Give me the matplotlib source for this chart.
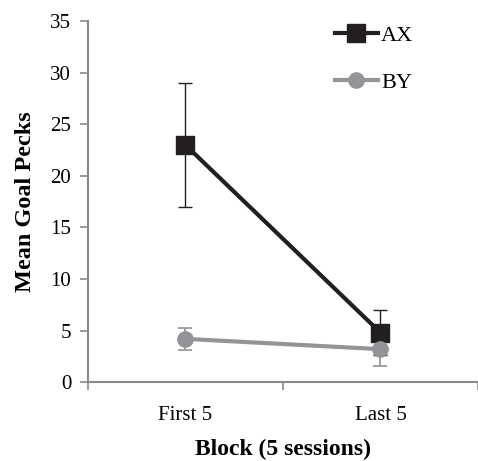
import matplotlib
matplotlib.use("Agg")
import matplotlib.pyplot as plt

plt.rcParams["font.family"] = ["Liberation Serif", "DejaVu Serif"]

# data
blocks = ["First 5", "Last 5"]
ax_mean = [23.0, 4.8]
ax_err = [6.0, 2.2]
by_mean = [4.2, 3.2]
by_err = [1.1, 1.6]

BLACK = "#231f20"
GRAY = "#929497"
AXIS = "#8a8a8a"

fig = plt.figure(figsize=(4.78, 4.61), dpi=100)
ax = fig.add_axes([0.184, 0.171, 0.816, 0.783])

x = list(range(len(blocks)))
# BY error bars sit underneath, BY markers on top of AX
ax.errorbar(x, by_mean, yerr=by_err, fmt="none", ecolor=GRAY,
            elinewidth=1.2, capsize=5, capthick=1.2, zorder=1)
eb_ax = ax.errorbar(x, ax_mean, yerr=ax_err, color=BLACK, ecolor=BLACK, lw=3,
                    elinewidth=1.0, capsize=5, capthick=1.0,
                    marker="s", markersize=12.5, zorder=2)
line_by, = ax.plot(x, by_mean, color=GRAY, lw=3, marker="o", markersize=11,
                   zorder=3)

ax.set_xlim(-0.5, 1.47)
ax.set_ylim(0, 35)
ax.set_yticks(range(0, 36, 5))

# category boundaries carry the tick marks, labels sit between them
ax.set_xticks([-0.5, 0.5, 1.5])
ax.set_xticklabels([])
ax.set_xticks(x, minor=True)
ax.set_xticklabels(blocks, minor=True)
ax.tick_params(axis="x", which="major", length=6, width=1.2, color=AXIS, direction="out")
ax.tick_params(axis="x", which="minor", length=0, pad=17, labelsize=15)
ax.tick_params(axis="y", length=6, width=1.2, color=AXIS, labelsize=15, pad=6)

for side in ["top", "right"]:
    ax.spines[side].set_visible(False)
for side in ["left", "bottom"]:
    ax.spines[side].set_color(AXIS)
    ax.spines[side].set_linewidth(1.5)

ax.set_ylabel("Mean Goal Pecks", fontsize=17.5, fontweight="bold", labelpad=10)
ax.set_xlabel("Block (5 sessions)", fontsize=17, fontweight="bold", labelpad=10)

leg = ax.legend([eb_ax[0], line_by], ["AX", "BY"], loc="upper right", frameon=False,
                fontsize=16, handlelength=1.9, handletextpad=0.15,
                labelspacing=1.2, bbox_to_anchor=(0.885, 1.045))

fig.savefig("out.png", dpi=100)
